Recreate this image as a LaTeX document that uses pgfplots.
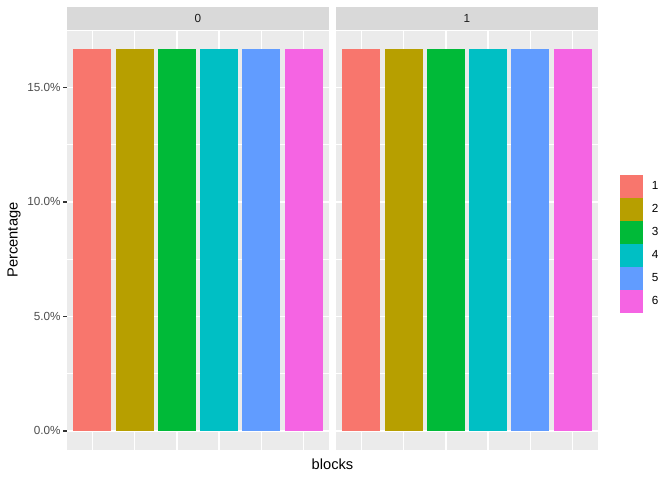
\documentclass[border=0pt]{standalone}
\usepackage{pgfplots}
\pgfplotsset{compat=1.18}
\usepackage{fontspec}
\setmainfont{Liberation Sans}

\definecolor{c1}{HTML}{F8766D}
\definecolor{c2}{HTML}{B79F00}
\definecolor{c3}{HTML}{00BA38}
\definecolor{c4}{HTML}{00BFC4}
\definecolor{c5}{HTML}{619CFF}
\definecolor{c6}{HTML}{F564E3}
\definecolor{panelbg}{HTML}{EBEBEB}
\definecolor{stripbg}{HTML}{D9D9D9}
\definecolor{grey30}{HTML}{4D4D4D}
\definecolor{grey20}{HTML}{333333}
\definecolor{grey10}{HTML}{1A1A1A}

\newcommand{\smallfont}{\fontsize{8.8}{10}\selectfont}

\pgfplotsset{
  panel/.style={
    scale only axis, width=196.5pt, height=315pt, anchor=south west,
    ybar, bar width=0.9, bar shift=0pt,
    xmin=0.4, xmax=6.6, ymin=-0.8333, ymax=17.5,
    axis background/.style={fill=panelbg},
    axis line style={draw=none},
    xtick={1,...,6}, xticklabels={}, x tick style={draw=none},
    ytick={0,5,10,15}, minor ytick={2.5,7.5,12.5,17.5},
    ytick pos=left,
    grid=both,
    major grid style={white, line width=1.07pt},
    minor grid style={white, line width=0.53pt},
    minor tick length=0pt, major tick length=2.75pt, tick align=outside,
    every axis title/.style={at={(rel axis cs:0.5,1)}, anchor=south,
      fill=stripbg, minimum width=196.5pt, minimum height=17.25pt,
      inner sep=0pt, text=grey10, font=\smallfont},
  },
}

\begin{document}
\begin{tikzpicture}
\useasboundingbox (0,0) rectangle (504pt,360pt);

% facet 0
\begin{axis}[panel, at={(50.25pt,22.5pt)}, title={0},
    yticklabels={0.0\%,5.0\%,10.0\%,15.0\%},
    yticklabel style={text=grey30, font=\smallfont, inner sep=0pt, xshift=-1.8pt},
    ytick style={grey20, line width=1.07pt},
    ylabel={Percentage},
    ylabel style={at={(rel axis cs:-0.2023,0.5)}, rotate=0, anchor=center,
      font=\fontsize{11}{13}\selectfont},
]
\addplot[fill=c1, draw=none] coordinates {(1,16.6667)};
\addplot[fill=c2, draw=none] coordinates {(2,16.6667)};
\addplot[fill=c3, draw=none] coordinates {(3,16.6667)};
\addplot[fill=c4, draw=none] coordinates {(4,16.6667)};
\addplot[fill=c5, draw=none] coordinates {(5,16.6667)};
\addplot[fill=c6, draw=none] coordinates {(6,16.6667)};
\end{axis}

% facet 1
\begin{axis}[panel, at={(252pt,22.5pt)}, title={1},
    yticklabels={}, major tick length=0pt,
    legend image code/.code={
      \path (0pt,-8.64pt) rectangle (17.28pt,8.64pt);
      \fill[#1, draw=none] (0.6pt,-8.04pt) rectangle (16.68pt,8.04pt);},
    legend cell align=left,
    legend style={at={(rel axis cs:1.084,0.4905)}, anchor=west,
      draw=none, fill=none, inner sep=0pt, row sep=0pt,
      nodes={inner sep=0pt, font=\smallfont, text=black},
      /tikz/every odd column/.append style={column sep=6.5pt}},
]
\addplot[fill=c1, draw=none] coordinates {(1,16.6667)};
\addplot[fill=c2, draw=none] coordinates {(2,16.6667)};
\addplot[fill=c3, draw=none] coordinates {(3,16.6667)};
\addplot[fill=c4, draw=none] coordinates {(4,16.6667)};
\addplot[fill=c5, draw=none] coordinates {(5,16.6667)};
\addplot[fill=c6, draw=none] coordinates {(6,16.6667)};
\legend{1,2,3,4,5,6}
\end{axis}

\node[font=\fontsize{11}{13}\selectfont] at (249.4pt,12pt) {blocks};
\end{tikzpicture}
\end{document}
